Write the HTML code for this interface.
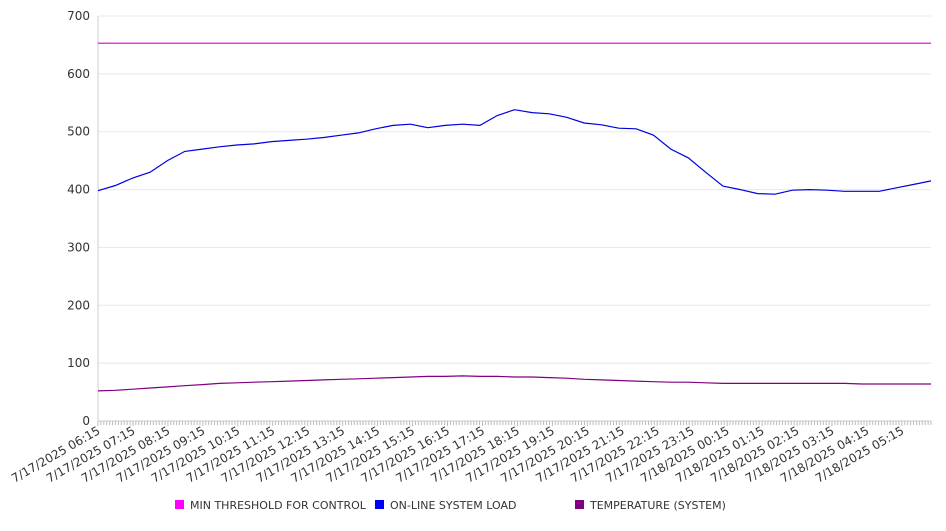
<!DOCTYPE html>
<html><head><meta charset="utf-8"><style>
body{margin:0;background:#fff;font-family:"Liberation Sans","DejaVu Sans",sans-serif;}
svg text{font-family:"DejaVu Sans","Liberation Sans",sans-serif;fill:#333;}
</style></head><body>
<svg id="chart" width="946" height="526" xmlns="http://www.w3.org/2000/svg"></svg>
<script>
const yTicks=[0,100,200,300,400,500,600,700];
const xLabels=["7/17/2025 06:15","7/17/2025 07:15","7/17/2025 08:15","7/17/2025 09:15","7/17/2025 10:15","7/17/2025 11:15","7/17/2025 12:15","7/17/2025 13:15","7/17/2025 14:15","7/17/2025 15:15","7/17/2025 16:15","7/17/2025 17:15","7/17/2025 18:15","7/17/2025 19:15","7/17/2025 20:15","7/17/2025 21:15","7/17/2025 22:15","7/17/2025 23:15","7/18/2025 00:15","7/18/2025 01:15","7/18/2025 02:15","7/18/2025 03:15","7/18/2025 04:15","7/18/2025 05:15"];
const thresholdValues=[653,653,653,653,653,653,653,653,653,653,653,653,653,653,653,653,653,653,653,653,653,653,653,653,653,653,653,653,653,653,653,653,653,653,653,653,653,653,653,653,653,653,653,653,653,653,653,653,653];
const loadValues=[398,407,420,430,450,466,470,474,477,479,483,485,487,490,494,498,505,511,513,507,511,513,511,528,538,533,531,525,515,512,506,505,494,470,455,430,406,400,393,392,399,400,399,397,397,397,403,409,415];
const tempValues=[52,53,55,57,59,61,63,65,66,67,68,69,70,71,72,73,74,75,76,77,77,78,77,77,76,76,75,74,72,71,70,69,68,67,67,66,65,65,65,65,65,65,65,65,64,64,64,64,64];
const stepMinutes=29.8;
const X0=98,X1=931,Y0=421,Y1=16,TOTAL=1430;
const xs=m=>X0+(X1-X0)*m/TOTAL;
const ys=v=>Y0-(Y0-Y1)*v/700;
const svg=document.getElementById('chart');
const NS='http://www.w3.org/2000/svg';
function mk(t,a,p){const e=document.createElementNS(NS,t);for(const k in a)e.setAttribute(k,a[k]);(p||svg).appendChild(e);return e;}
yTicks.forEach(v=>{
  const g=mk('line',{x1:X0,x2:X1,y1:ys(v),y2:ys(v),stroke:v===0?'#ccc':'#e8e8e8','stroke-width':1});
  
  
  const t=mk('text',{x:90,y:ys(v)+4,'text-anchor':'end','font-size':12});
  t.textContent=v;
  
  
});
const ax=mk('line',{x1:X0,x2:X0,y1:Y1,y2:Y0,stroke:'#ccc'});


for(let m=0;m<=TOTAL;m+=5){
  const tk=mk('line',{x1:xs(m),x2:xs(m),y1:Y0,y2:Y0+(m%60===0?5:4),stroke:'#bbb'});
  
  
}
xLabels.forEach((l,i)=>{
  const x=xs(i*60)+3,y=Y0+12;
  const t=mk('text',{x:x,y:y,'text-anchor':'end','font-size':12,transform:`rotate(-30 ${x} ${y})`});
  t.textContent=l;
  
  
});
function series(vals,color,name){
  const d=vals.map((v,i)=>(i?'L':'M')+xs(Math.min(TOTAL,i*stepMinutes)).toFixed(1)+','+ys(v).toFixed(1)).join('');
  const p=mk('path',{d:d,fill:'none',stroke:color,'stroke-width':1.2});
  
  
}
series(thresholdValues,'#d000d0','threshold-line');
series(tempValues,'#800080','temperature-line');
series(loadValues,'#0000e0','load-line');
const legend=[['MIN THRESHOLD FOR CONTROL','#ff00ff',175],['ON-LINE SYSTEM LOAD','#0000ff',375],['TEMPERATURE (SYSTEM)','#800080',575]];
legend.forEach(([lbl,c,x])=>{
  const g=mk('g',{});
  
  
  mk('rect',{x:x,y:500,width:9,height:9,fill:c},g);
  const t=mk('text',{x:x+15,y:509,'font-size':11},g);
  t.textContent=lbl;
});
</script>
</body></html>
